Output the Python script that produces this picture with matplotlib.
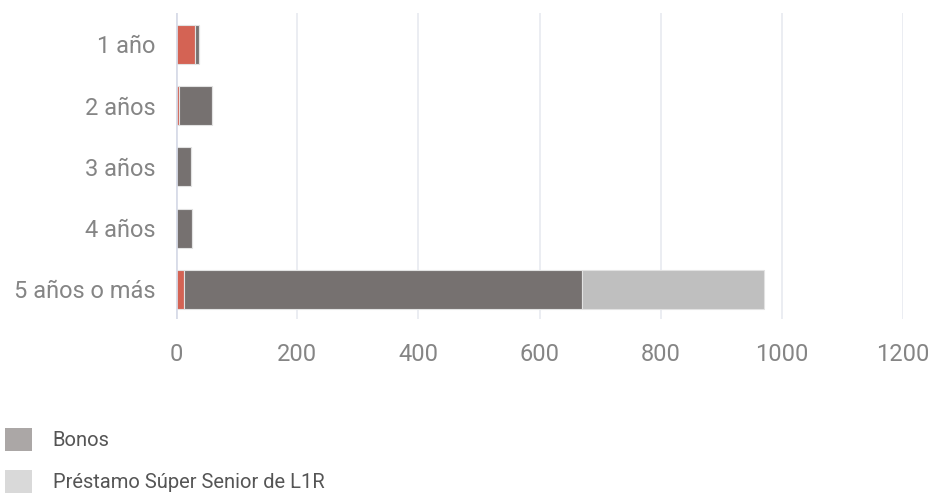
import numpy as np
from matplotlib import pyplot as plt
from matplotlib.patches import Patch

plt.rcParams['font.family'] = ['Roboto', 'DejaVu Sans']

# data
categories = ['1 año', '2 años', '3 años', '4 años', '5 años o más']
rojo = [32, 4.5, 0, 0, 13]
bonos = [6.5, 55, 24, 26, 657]
prestamo = [0, 0, 0, 0, 300]
xticks = [0, 200, 400, 600, 800, 1000, 1200]

fig = plt.figure(figsize=(9.31, 4.96), dpi=100)
ax = fig.add_axes([0.189, 0.357, 0.781, 0.617])

y = np.arange(len(categories))
h = 0.64
edge = dict(edgecolor='#e2e2e2', linewidth=0.8)
ax.barh(y, rojo, height=h, color='#d46354', zorder=3, **edge)
ax.barh(y, bonos, left=rojo, height=h, color='#767170', zorder=3, **edge)
left2 = np.array(rojo) + np.array(bonos)
ax.barh(y, prestamo, left=left2, height=h, color='#bfbfbf', zorder=3, **edge)

ax.set_xlim(0, 1200)
ax.set_ylim(4.48, -0.51)
ax.set_yticks(y)
ax.set_yticklabels(categories)
ax.set_xticks(xticks)
ax.set_xticklabels([str(t) for t in xticks])

for t in xticks[1:]:
    ax.axvline(t, color='#e8eaf0', lw=1.2, zorder=1)
ax.axvline(0, color='#d8dce8', lw=2, zorder=4)

for s in ax.spines.values():
    s.set_visible(False)
ax.tick_params(length=0, labelsize=17, colors='#858585')
ax.tick_params(axis='x', pad=17)
ax.tick_params(axis='y', pad=15)

handles = [Patch(facecolor='#aba7a6'), Patch(facecolor='#d9d9d9')]
fig.legend(handles, ['Bonos', 'Préstamo Súper Senior de L1R'],
           loc='upper left', bbox_to_anchor=(0.0054, 0.137), frameon=False,
           borderpad=0, borderaxespad=0,
           handlelength=1.36, handleheight=1.36, handletextpad=1.0,
           labelspacing=0.95, prop={'size': 14.5},
           labelcolor='#555555')

fig.savefig('out.png', dpi=100)
